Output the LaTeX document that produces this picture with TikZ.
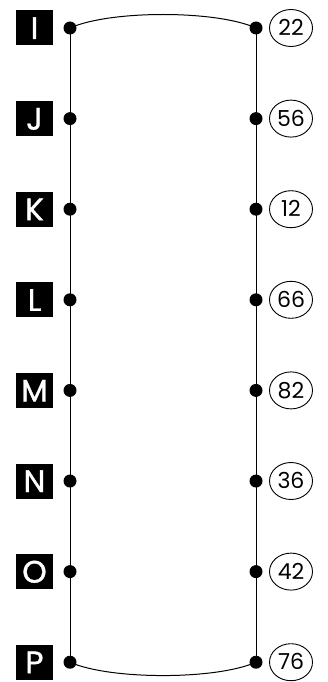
\documentclass[tikz,border=0pt]{standalone}
\usepackage{fontspec}
\usetikzlibrary{shapes.geometric}
\setmainfont{Poppins}
\newfontfamily\lblfont{Poppins}[FakeBold=1.2]
\begin{document}
\begin{tikzpicture}[x=1pt,y=-1pt,
  lbl/.style={fill=black,text=white,minimum width=37pt,minimum height=35pt,inner sep=0pt,text height=22pt,text depth=0pt,font=\fontsize{31}{31}\lblfont},
  num/.style={draw,ellipse,line width=0.9pt,minimum width=43pt,minimum height=37pt,inner sep=0pt,text height=15.5pt,text depth=0pt,font=\fontsize{22}{22}\selectfont},
  dot/.style={circle,fill=black,minimum size=13pt,inner sep=0pt},
  wire/.style={line width=1pt}]
\useasboundingbox (0,0) rectangle (328,682);
\foreach \L/\N [count=\i from 0] in {I/22,J/56,K/12,L/66,M/82,N/36,O/42,P/76}{
  \pgfmathsetmacro\yy{28+90.6*\i}
  \node[lbl] (L\i) at (34.5,\yy) {\L};
  \node[num] (N\i) at (291,\yy) {\N};
  \node[dot] (a\i) at (70,\yy) {};
  \node[dot] (b\i) at (256,\yy) {};
}
\draw[wire] (a0.center) -- (a7.center);
\draw[wire] (b0.center) -- (b7.center);
\draw[wire] (a0.center) .. controls (110,10) and (216,10) .. (b0.center);
\draw[wire] (a7.center) .. controls (110,680) and (216,680) .. (b7.center);
\end{tikzpicture}
\end{document}
